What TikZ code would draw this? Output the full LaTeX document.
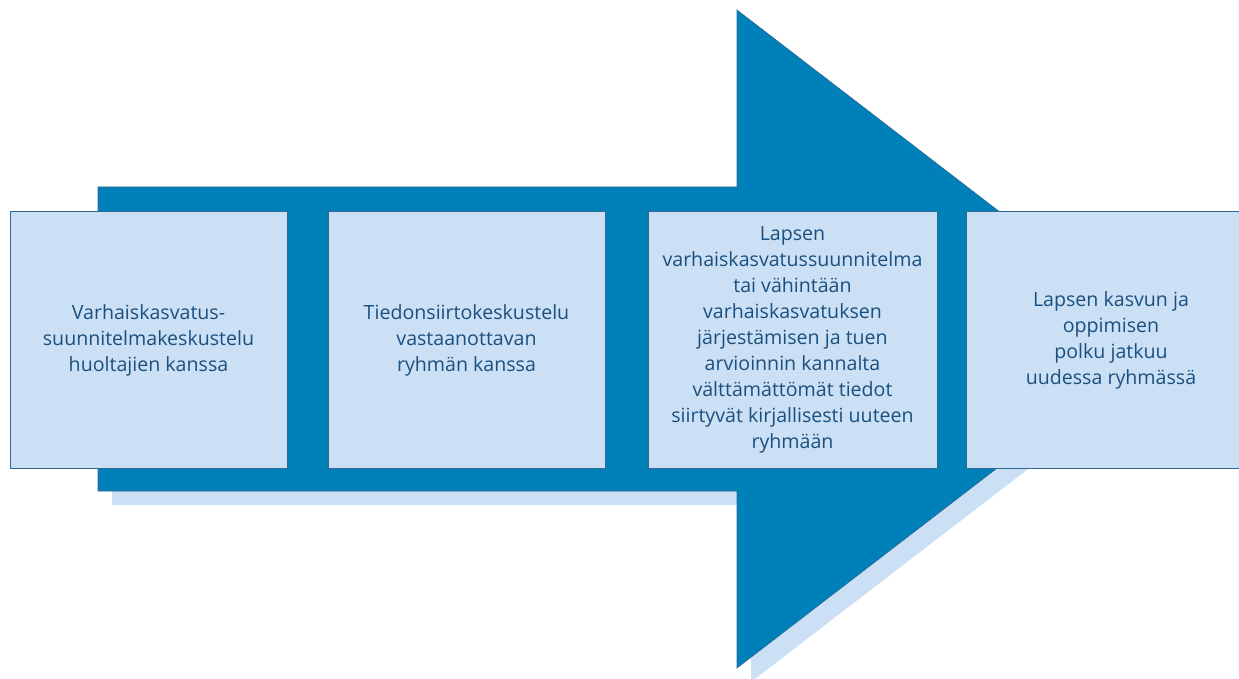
\documentclass[tikz,border=0pt]{standalone}
\usepackage{fontspec}
\setmainfont{Open Sans}
\usepackage{tikz}
\usetikzlibrary{shapes.geometric}
\definecolor{arrowblue}{HTML}{0080B9}
\definecolor{boxfill}{HTML}{CCE0F5}
\definecolor{boxline}{HTML}{2F6894}
\definecolor{textblue}{HTML}{1A5080}
\tikzstyle{phase} = [rectangle, draw=boxline, line width=1pt, fill=boxfill, minimum height=256pt, text centered, align=center, text=textblue, font=\fontsize{19.6}{26}\selectfont]
\tikzstyle{bigarrow} = [fill=arrowblue, draw=boxline, line width=0.6pt]
\tikzstyle{shade} = [fill=boxfill]

\begin{document}
\begin{tikzpicture}[x=1pt, y=-1pt]
            \useasboundingbox (0,0) rectangle (1239,679);
            \fill [shade] (112,201) -- (751,201) -- (751,24) -- (1179,353) -- (751,682) -- (751,505) -- (112,505) -- cycle;
            \draw [bigarrow] (98,187) -- (737,187) -- (737,10) -- (1165,339) -- (737,668) -- (737,491) -- (98,491) -- cycle;
            \node [phase, minimum width=277pt] at (148.5,340) (talk) {Varhaiskasvatus-\\suunnitelmakeskustelu\\huoltajien kanssa};
            \node [phase, minimum width=277pt] at (466.5,340) (transfer) {Tiedonsiirtokeskustelu\\vastaanottavan\\ryhmän kanssa};
            \node [phase, minimum width=289pt] at (792.5,340) (plan) {Lapsen\\varhaiskasvatussuunnitelma\\tai vähintään\\varhaiskasvatuksen\\järjestämisen ja tuen\\arvioinnin kannalta\\välttämättömät tiedot\\siirtyvät kirjallisesti uuteen\\ryhmään};
            \node [phase, minimum width=290pt] at (1111,340) (path) {Lapsen kasvun ja\\oppimisen\\polku jatkuu\\uudessa ryhmässä};
            \end{tikzpicture}
\end{document}
